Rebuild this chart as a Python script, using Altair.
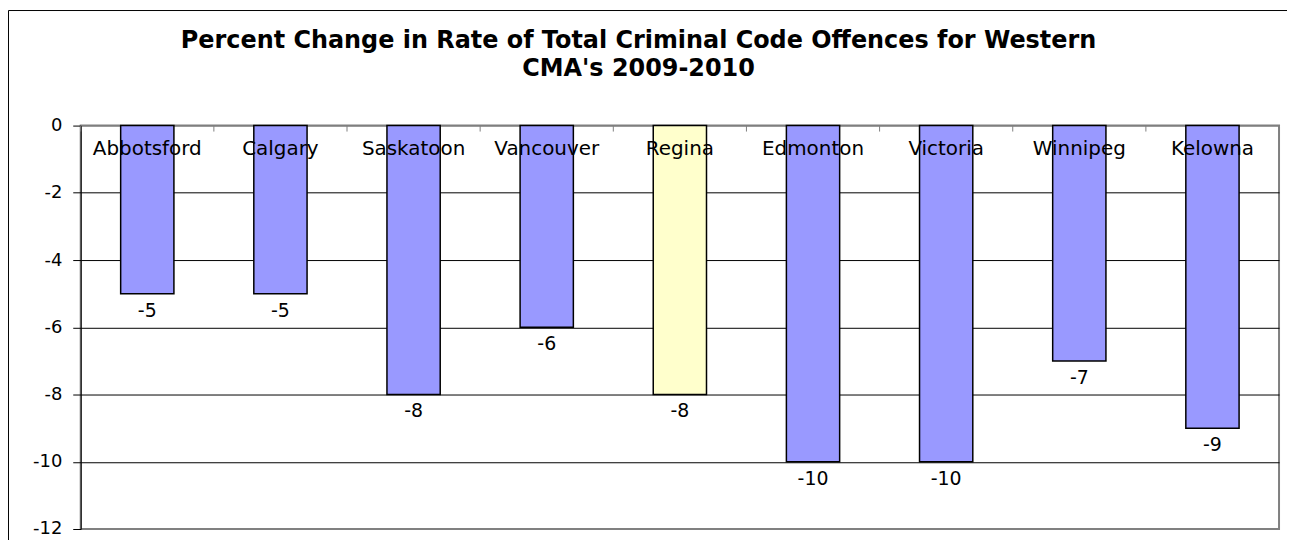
import altair as alt
import pandas as pd

cities = ["Abbotsford", "Calgary", "Saskatoon", "Vancouver", "Regina",
          "Edmonton", "Victoria", "Winnipeg", "Kelowna"]
values = [-5, -5, -8, -6, -8, -10, -10, -7, -9]
y_ticks = [0, -2, -4, -6, -8, -10, -12]
title_lines = ["Percent Change in Rate of Total Criminal Code Offences for Western",
               "CMA's 2009-2010"]
highlight = "Regina"

df = pd.DataFrame({"city": cities, "value": values,
                   "label": [str(v) for v in values]})
one = pd.DataFrame({"k": [0]})

FONT = "DejaVu Sans"
W, H = 1203, 405

xenc = alt.X("city:N", sort=cities, axis=None,
             scale=alt.Scale(paddingInner=0, paddingOuter=0))
yscale = alt.Scale(domain=[-12, 0], nice=False, zero=True)
yaxis = alt.Axis(values=y_ticks, grid=True,
                 gridColor={"condition": {"test": "datum.value == 0 || datum.value == -12",
                                          "value": "#808080"},
                            "value": "black"},
                 labelExpr="'' + datum.value",
                 gridWidth=1, domainColor="black", tickColor="black",
                 tickSize=8, labelPadding=11, labelFont=FONT,
                 labelFontSize=18, labelColor="black")

border = alt.Chart(one).mark_rect(fillOpacity=0, stroke="black", strokeWidth=1).encode(
    x=alt.value(-72.5), x2=alt.value(1400), y=alt.value(-115.5), y2=alt.value(800)
)

bars = alt.Chart(df).mark_bar(stroke="black", strokeWidth=1.5,
                              width=alt.RelativeBandSize(0.4)).encode(
    x=xenc,
    y=alt.Y("value:Q", scale=yscale, title=None, axis=yaxis),
    color=alt.condition(alt.datum.city == highlight, alt.value("#FFFFCC"), alt.value("#9999FF")),
)

ticks = alt.Chart(df).mark_rule(color="#808080", strokeWidth=1).encode(
    x=alt.X("city:N", sort=cities, bandPosition=0, axis=None),
    y=alt.value(0), y2=alt.value(6)
)

cat_labels = alt.Chart(df).mark_text(font=FONT, fontSize=20, color="black",
                                     baseline="alphabetic", align="center").encode(
    x=alt.X("city:N", sort=cities, axis=None),
    y=alt.value(30),
    text="city:N",
)

val_labels = alt.Chart(df).mark_text(font=FONT, fontSize=19, color="black",
                                     baseline="alphabetic", align="center", dy=23).encode(
    x=alt.X("city:N", sort=cities, axis=None),
    y=alt.Y("value:Q", scale=yscale, title=None, axis=yaxis),
    text="label:N",
)

title = alt.Chart(one).mark_text(font=FONT, fontSize=24, fontWeight="bold", color="black",
                                 baseline="alphabetic", align="center", lineHeight=28).encode(
    x=alt.value(560), y=alt.value(-78), text=alt.value(title_lines)
)

chart = alt.layer(border, bars, ticks, cat_labels, val_labels, title).properties(
    width=W, height=H,
    autosize=alt.AutoSizeParams(type="none"),
    padding={"left": 73, "top": 117, "right": 8, "bottom": 10},
    background="white",
).configure_view(stroke="#808080", strokeWidth=2)

chart.save("out.html", embed_options={"renderer": "svg", "actions": False})
